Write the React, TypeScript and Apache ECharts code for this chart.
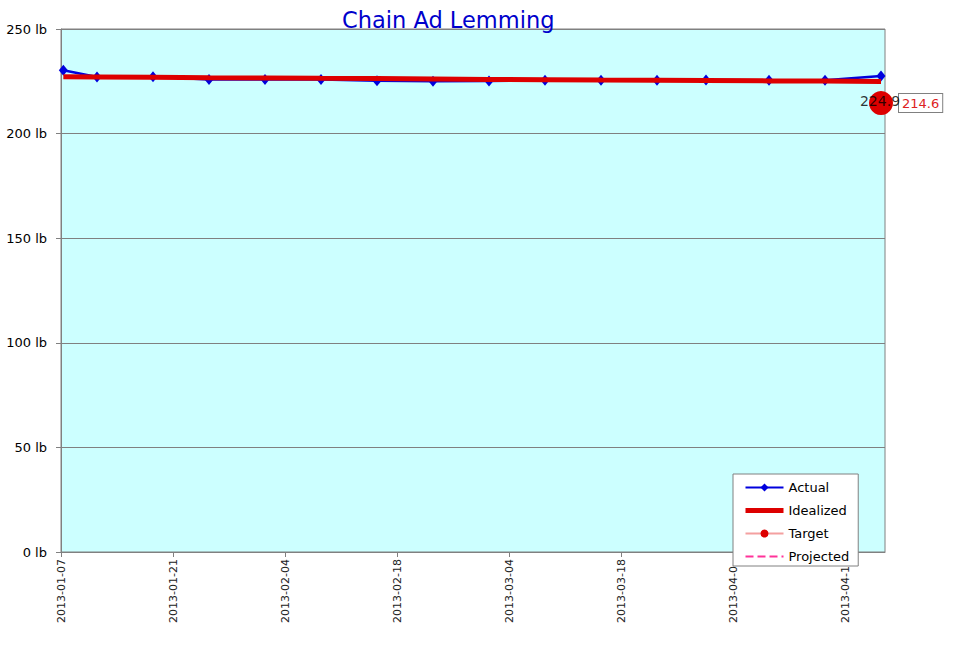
import React, { useEffect, useRef } from "react";
import * as echarts from "echarts";

const chartTitle = "Chain Ad Lemming";
const xStart = "2013-01-07";
const xTickLabels = [
  "2013-01-07",
  "2013-01-21",
  "2013-02-04",
  "2013-02-18",
  "2013-03-04",
  "2013-03-18",
  "2013-04-0",
  "2013-04-1",
];
const dates = [
  "2013-01-07T07:00",
  "2013-01-11T12:00",
  "2013-01-18T12:00",
  "2013-01-25T12:00",
  "2013-02-01T12:00",
  "2013-02-08T12:00",
  "2013-02-15T12:00",
  "2013-02-22T12:00",
  "2013-03-01T12:00",
  "2013-03-08T12:00",
  "2013-03-15T12:00",
  "2013-03-22T12:00",
  "2013-03-28T15:00",
  "2013-04-05T12:00",
  "2013-04-12T12:00",
  "2013-04-19T12:00",
];
const actual = [230.3, 227.1, 227.2, 225.9, 225.9, 225.9, 225.3, 225.0, 225.1, 225.5, 225.5, 225.5, 225.6, 225.5, 225.5, 227.5];
const idealized = [227.2, 227.1, 226.9, 226.7, 226.6, 226.4, 226.3, 226.1, 225.9, 225.8, 225.6, 225.5, 225.4, 225.2, 225.1, 224.9];
const targetDate = "2013-04-19T12:00";
const targetValue = 214.6;
const projected: number[][] = [];

const DAY = 86400000;
const base = Date.parse(xStart + "T00:00:00Z");
const dayOf = (s: string) => (Date.parse(s + ":00Z") - base) / DAY;

export default function App() {
  const ref = useRef<HTMLDivElement>(null);
  useEffect(() => {
    if (!ref.current) return;
    const chart = echarts.init(ref.current, undefined, { renderer: "svg" });
    const font = "DejaVu Sans";
    const tickVals = xTickLabels.map((_, i) => i * 14);
    const tx = dayOf(targetDate);
    chart.setOption({
      animation: false,
      textStyle: { fontFamily: font },
      title: {
        text: chartTitle,
        left: 337,
        top: 3,
        textStyle: { color: "#0000cc", fontSize: 22.5, fontWeight: "normal", fontFamily: font },
      },
      grid: {
        left: 61,
        right: 75,
        top: 29,
        bottom: 101,
        show: true,
        backgroundColor: "#ccffff",
        borderColor: "#808080",
        borderWidth: 1,
      },
      legend: {
        orient: "vertical",
        left: 733,
        top: 474,
        data: [
          { name: "Actual" },
          { name: "Idealized", itemStyle: { opacity: 0 }, lineStyle: { width: 5 } },
          { name: "Target" },
          { name: "Projected", itemStyle: { opacity: 0 } },
        ],
        backgroundColor: "#ffffff",
        borderColor: "#808080",
        borderWidth: 1,
        padding: [7, 9, 3, 10],
        itemWidth: 38,
        itemHeight: 10,
        itemGap: 10,
        itemTextGap: 4,
        selectedMode: false,
        textStyle: { color: "#000", fontSize: 13, fontFamily: font },
        z: 10,
      },
      xAxis: {
        type: "value",
        min: 0,
        max: 103,
        interval: 14,
        splitLine: { show: false },
        axisLine: { show: true, lineStyle: { color: "#808080" } },
        axisTick: { show: true, length: 5, customValues: tickVals, lineStyle: { color: "#808080" } },
        axisLabel: {
          rotate: 90,
          align: "left",
          fontSize: 11,
          color: "#222",
          margin: 71,
          customValues: tickVals,
          formatter: (v: number) => {
            const i = Math.round(v / 14);
            return xTickLabels[i] ?? "";
          },
        },
      },
      yAxis: {
        type: "value",
        min: 0,
        max: 250,
        interval: 50,
        axisLine: { show: true, lineStyle: { color: "#808080" } },
        axisTick: { show: true, length: 5, lineStyle: { color: "#808080" } },
        splitLine: { show: true, lineStyle: { color: "#808080", width: 1 } },
        axisLabel: { color: "#000", fontSize: 13, margin: 14, formatter: "{value} lb" },
      },
      series: [
        {
          name: "Actual",
          type: "line",
          data: dates.map((d, i) => [dayOf(d), actual[i]]),
          symbol: "diamond",
          symbolSize: [9, 11],
          showAllSymbol: true,
          itemStyle: { color: "#0000dd" },
          lineStyle: { color: "#0000dd", width: 2.5 },
          z: 2,
        },
        {
          name: "Idealized",
          type: "line",
          data: dates.map((d, i) => [dayOf(d), idealized[i]]),
          symbol: "none",
          itemStyle: { color: "#dd0000" },
          lineStyle: { color: "#dd0000", width: 5 },
          z: 3,
        },
        {
          name: "Target",
          type: "line",
          data: [[tx, targetValue]],
          symbol: "circle",
          symbolSize: 24,
          clip: false,
          itemStyle: { color: "#dd0000" },
          lineStyle: { color: "#f4a0a0", width: 1.5 },
          label: {
            show: true,
            position: "right",
            distance: 6,
            formatter: () => targetValue.toFixed(1),
            color: "#dd2222",
            fontSize: 13,
            backgroundColor: "#ffffff",
            borderColor: "#808080",
            borderWidth: 1,
            padding: [3, 3, 2, 3],
          },
          z: 4,
        },
        {
          name: "Projected",
          type: "line",
          data: projected,
          symbol: "none",
          itemStyle: { color: "#ff3399" },
          lineStyle: { color: "#ff3399", width: 1.5, type: "dashed" },
        },
        {
          name: "idealEnd",
          type: "scatter",
          data: [[tx, targetValue]],
          symbolSize: 2,
          clip: false,
          itemStyle: { color: "rgba(0,0,0,0)" },
          label: {
            show: true,
            position: "inside",
            offset: [-1, -2],
            formatter: () => idealized[idealized.length - 1].toFixed(1),
            color: "#000",
            fontSize: 14,
          },
          z: 10,
          silent: true,
        },
      ],
    });
    return () => chart.dispose();
  }, []);
  return (
    <div
      ref={ref}
      style={{ position: "absolute", left: 0, top: 0, width: 960, height: 653 }}
    />
  );
}
